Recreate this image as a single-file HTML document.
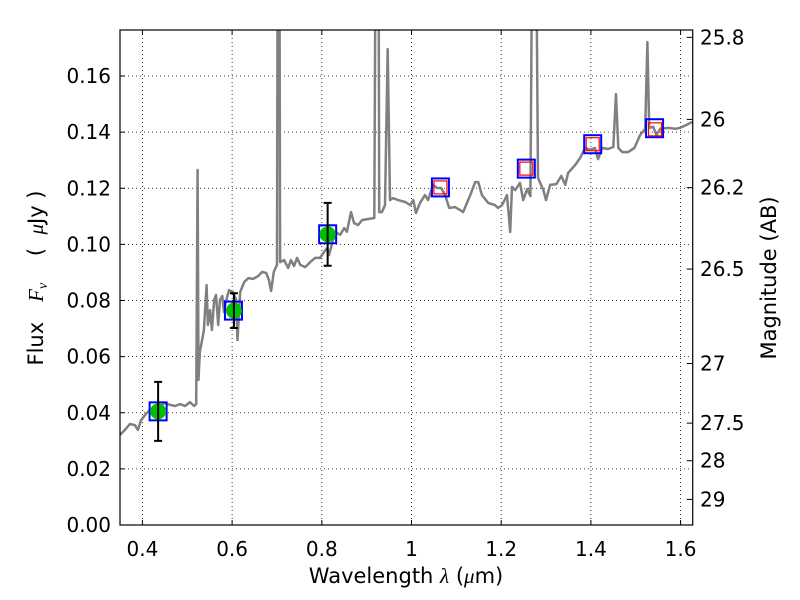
<!DOCTYPE html>
<html><head><meta charset="utf-8"><style>
html,body{margin:0;padding:0;background:#fff;}
svg{display:block;font-family:"DejaVu Sans","Liberation Sans",sans-serif;}
</style></head><body>
<svg id="chart" width="800" height="600" viewBox="0 0 800 600" xmlns="http://www.w3.org/2000/svg">
<defs><clipPath id="plotclip"><rect x="120" y="30" width="572.7" height="495"/></clipPath></defs>
<rect x="0" y="0" width="800" height="600" fill="#fff"/>
<g id="grid"></g>
<g id="series" clip-path="url(#plotclip)"></g>
<rect x="120" y="30" width="572.7" height="495" fill="none" stroke="#000" stroke-width="1.2"/>
<g id="axes"></g>
<text x="406" y="583" font-size="21" text-anchor="middle">Wavelength  <tspan font-family="Liberation Serif, serif" font-style="italic">λ</tspan> (<tspan font-family="Liberation Serif, serif" font-style="italic">μ</tspan>m)</text>
<text transform="translate(43,278) rotate(-90)" font-size="21" text-anchor="middle" xml:space="preserve">Flux   <tspan font-family="Liberation Serif, serif" font-style="italic">F<tspan font-size="14" dy="4">ν</tspan></tspan><tspan dy="-4">    (  </tspan><tspan font-family="Liberation Serif, serif" font-style="italic">μ</tspan>Jy )</text>
<text transform="translate(776,278) rotate(-90)" font-size="21" text-anchor="middle">Magnitude (AB)</text>
</svg>
<script>
const xTicks=[0.4,0.6,0.8,1.0,1.2,1.4,1.6];
const xTickLabels=["0.4","0.6","0.8","1","1.2","1.4","1.6"];
const yTicks=[0,0.02,0.04,0.06,0.08,0.10,0.12,0.14,0.16];
const yTickLabels=["0.00","0.02","0.04","0.06","0.08","0.10","0.12","0.14","0.16"];
const magTicks=[25.8,26,26.2,26.5,27,27.5,28,29];
const magTickLabels=["25.8","26","26.2","26.5","27","27.5","28","29"];
const specWave=[0.350,0.361,0.372,0.383,0.390,0.397,0.408,0.417,0.428,0.439,0.450,0.462,0.473,0.484,0.495,0.506,0.515,0.520,0.523,0.525,0.528,0.533,0.537,0.543,0.546,0.551,0.555,0.560,0.564,0.569,0.573,0.578,0.582,0.586,0.593,0.602,0.609,0.612,0.618,0.627,0.636,0.647,0.658,0.667,0.676,0.682,0.687,0.693,0.700,0.702,0.705,0.707,0.716,0.725,0.731,0.738,0.745,0.752,0.763,0.774,0.785,0.796,0.805,0.812,0.816,0.825,0.834,0.841,0.850,0.856,0.865,0.872,0.881,0.890,0.917,0.921,0.926,0.928,0.934,0.941,0.947,0.952,0.959,0.970,0.986,0.997,1.004,1.010,1.019,1.030,1.037,1.048,1.057,1.066,1.075,1.084,1.097,1.108,1.115,1.131,1.142,1.149,1.157,1.171,1.186,1.193,1.202,1.213,1.220,1.224,1.231,1.242,1.249,1.258,1.265,1.271,1.276,1.282,1.294,1.300,1.309,1.323,1.334,1.343,1.349,1.365,1.376,1.387,1.398,1.409,1.416,1.425,1.438,1.450,1.456,1.461,1.470,1.483,1.497,1.510,1.521,1.526,1.530,1.539,1.546,1.555,1.573,1.588,1.599,1.626];
const specFlux=[0.0321,0.0339,0.0360,0.0356,0.0339,0.0374,0.0396,0.0410,0.0417,0.0424,0.0435,0.0428,0.0424,0.0431,0.0424,0.0438,0.0424,0.0431,0.1265,0.0517,0.0617,0.0659,0.0695,0.0855,0.0713,0.0766,0.0695,0.0802,0.0820,0.0713,0.0802,0.0816,0.0759,0.0795,0.0837,0.0830,0.0802,0.0659,0.0830,0.0866,0.0880,0.0877,0.0887,0.0902,0.0898,0.0873,0.0834,0.0902,0.0927,0.25,0.25,0.0937,0.0944,0.0916,0.0944,0.0923,0.0952,0.0927,0.0919,0.0937,0.0952,0.0952,0.0973,0.0987,0.0962,0.1016,0.1041,0.1034,0.1058,0.1045,0.1115,0.1076,0.1069,0.1087,0.1094,0.25,0.25,0.1115,0.1115,0.1140,0.1696,0.1158,0.1165,0.1158,0.1151,0.1140,0.1158,0.1112,0.1148,0.1176,0.1158,0.1212,0.1201,0.1201,0.1176,0.1130,0.1133,0.1123,0.1115,0.1176,0.1222,0.1222,0.1176,0.1148,0.1140,0.1130,0.1140,0.1176,0.1044,0.1205,0.1193,0.1219,0.1158,0.1197,0.1172,0.25,0.25,0.1237,0.1193,0.1158,0.1212,0.1215,0.1244,0.1212,0.1254,0.1283,0.1308,0.1344,0.1337,0.1344,0.1304,0.1344,0.1340,0.1347,0.1536,0.1344,0.1329,0.1329,0.1344,0.1390,0.1412,0.1721,0.1415,0.1419,0.1390,0.1412,0.1415,0.1412,0.1415,0.1436];
const obsWave=[0.435,0.604,0.813];
const obsFlux=[0.0405,0.0764,0.1036];
const obsErr=[0.0105,0.0062,0.0112];
const boxWave=[0.435,0.603,0.813,1.0645,1.256,1.404,1.542];
const boxFlux=[0.0405,0.0764,0.1036,0.1203,0.1270,0.1357,0.1414];
const modelWave=[1.0645,1.256,1.404,1.543];
const modelFlux=[0.1203,0.1270,0.1357,0.1410];

const X0=120,X1=692.7,Y0=525,Y1=30,XMIN=0.35,XMAX=1.627,YMIN=0,YMAX=0.1764;
const sx=v=>X0+(v-XMIN)/(XMAX-XMIN)*(X1-X0);
const sy=v=>Y0-(v-YMIN)/(YMAX-YMIN)*(Y0-Y1);
const magToFlux=m=>Math.pow(10,(23.9-m)/2.5);
const NS="http://www.w3.org/2000/svg";
function mk(tag,attrs,parent){const e=document.createElementNS(NS,tag);for(const k in attrs)e.setAttribute(k,attrs[k]);parent.appendChild(e);return e;}
const grid=document.getElementById('grid'),axes=document.getElementById('axes'),series=document.getElementById('series');

xTicks.forEach((t,i)=>{
  const x=sx(t);
  const g=mk('line',{x1:x,x2:x,y1:Y1,y2:Y0,stroke:'#000','stroke-width':0.8,'stroke-dasharray':'1,3'},grid);
  
  
  const tk=mk('path',{d:`M${x},${Y0}v-5M${x},${Y1}v5`,stroke:'#000','stroke-width':1},axes);
  
  
  const lb=mk('text',{x:x,y:556,'font-size':20,'text-anchor':'middle'},axes);
  lb.textContent=xTickLabels[i];
  
  
});
yTicks.forEach((t,i)=>{
  const y=sy(t);
  const g=mk('line',{x1:X0,x2:X1,y1:y,y2:y,stroke:'#000','stroke-width':0.8,'stroke-dasharray':'1,3'},grid);
  
  
  const tk=mk('path',{d:`M${X0},${y}h5`,stroke:'#000','stroke-width':1},axes);
  
  
  const lb=mk('text',{x:111,y:y+7,'font-size':20,'text-anchor':'end'},axes);
  lb.textContent=yTickLabels[i];
  
  
});
magTicks.forEach((m,i)=>{
  const y=sy(magToFlux(m));
  const tk=mk('path',{d:`M${X1},${y}h-6`,stroke:'#000','stroke-width':1},axes);
  
  
  const lb=mk('text',{x:700,y:y+7,'font-size':20,'text-anchor':'start'},axes);
  lb.textContent=magTickLabels[i];
  
  
});

const pts=specWave.map((w,i)=>sx(w).toFixed(1)+','+sy(specFlux[i]).toFixed(1)).join(' ');
const sp=mk('polyline',{points:pts,fill:'none',stroke:'#808080','stroke-width':2.5,'stroke-linejoin':'round'},series);



boxWave.forEach((w,i)=>{
  const b=mk('rect',{x:sx(w)-8.5,y:sy(boxFlux[i])-9,width:17,height:18,fill:'none',stroke:'#0000ff','stroke-width':2},series);
  
  
});
modelWave.forEach((w,i)=>{
  const r=mk('rect',{x:sx(w)-6.5,y:sy(modelFlux[i])-6.5,width:13,height:13,fill:'none',stroke:'#ff0000','stroke-width':1.2},series);
  
  
});
obsWave.forEach((w,i)=>{
  const x=sx(w),yt=sy(obsFlux[i]+obsErr[i]),yb=sy(obsFlux[i]-obsErr[i]);
  const c=mk('circle',{cx:x,cy:sy(obsFlux[i]),r:8,fill:'#00c000'},series);
  
  
  const e=mk('path',{d:`M${x},${yt}V${yb}M${x-4},${yt}h8M${x-4},${yb}h8`,stroke:'#000','stroke-width':2,fill:'none'},series);
  
  
});
</script>
</body></html>
